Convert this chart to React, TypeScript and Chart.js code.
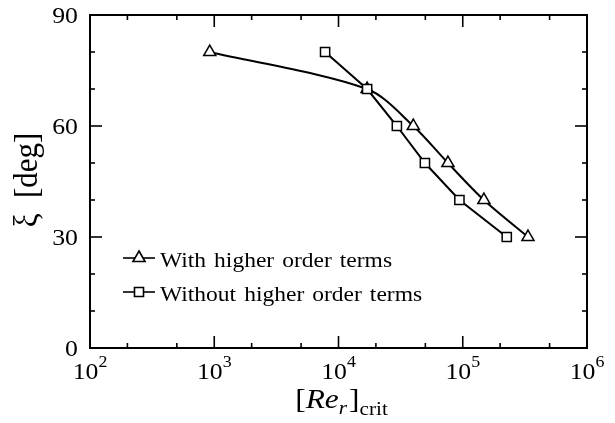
import React, { useEffect, useRef, useState } from 'react';
import { Chart, registerables } from 'chart.js';

Chart.register(...registerables);

// ---- data ----
const withX = [920, 17000, 40000, 76000, 148000, 335000];
const withY = [80, 70, 60, 50, 40, 30];
const withoutX = [7800, 17000, 29500, 49600, 94000, 226000];
const withoutY = [80, 70, 60, 50, 40, 30];
const seriesLabels = ['With higher order terms', 'Without higher order terms'];

const xMajorTicks = [1e2, 1e3, 1e4, 1e5, 1e6];
const xTickExponents = ['2', '3', '4', '5', '6'];
const xMinorTicks = [2e2, 5e2, 2e3, 5e3, 2e4, 5e4, 2e5, 5e5];
const yMajorTicks = [0, 30, 60, 90];
const yMinorTicks = [10, 20, 40, 50, 70, 80];

const SERIF = '"Liberation Serif"';
const SX = 1.12; // horizontal stretch of text in the reference scan

function txt(ctx: CanvasRenderingContext2D, s: string, x: number, y: number, font: string, align: CanvasTextAlign = 'left', sx = SX) {
  ctx.save();
  ctx.font = font;
  ctx.textAlign = align;
  ctx.textBaseline = 'alphabetic';
  ctx.translate(x, y);
  ctx.scale(sx, 1);
  ctx.fillText(s, 0, 0);
  ctx.restore();
}
function w(ctx: CanvasRenderingContext2D, s: string, font: string, sx = SX) {
  ctx.save();
  ctx.font = font;
  const m = ctx.measureText(s).width * sx;
  ctx.restore();
  return m;
}

function drawTri(ctx: CanvasRenderingContext2D, x: number, y: number, r: number) {
  ctx.beginPath();
  ctx.moveTo(x, y - r);
  ctx.lineTo(x + r * 0.866, y + r * 0.5);
  ctx.lineTo(x - r * 0.866, y + r * 0.5);
  ctx.closePath();
  ctx.fillStyle = '#fff';
  ctx.fill();
  ctx.stroke();
}
function drawSq(ctx: CanvasRenderingContext2D, x: number, y: number, h: number) {
  ctx.beginPath();
  ctx.rect(x - h, y - h, 2 * h, 2 * h);
  ctx.fillStyle = '#fff';
  ctx.fill();
  ctx.stroke();
}

const decorPlugin = {
  id: 'decor',
  afterDraw(chart: any) {
    const { ctx, chartArea: a, scales } = chart;
    const xs = scales.x;
    const ys = scales.y;
    ctx.save();
    ctx.strokeStyle = '#000';
    ctx.fillStyle = '#000';
    ctx.lineWidth = 2;
    ctx.strokeRect(a.left, a.top, a.right - a.left, a.bottom - a.top);

    ctx.lineWidth = 1.6;
    const tick = (x1: number, y1: number, x2: number, y2: number) => {
      ctx.beginPath();
      ctx.moveTo(x1, y1);
      ctx.lineTo(x2, y2);
      ctx.stroke();
    };
    const MAJ = 12, MIN = 5;
    xMajorTicks.forEach((v) => {
      const px = xs.getPixelForValue(v);
      tick(px, a.bottom, px, a.bottom - MAJ);
      tick(px, a.top, px, a.top + MAJ);
    });
    xMinorTicks.forEach((v) => {
      const px = xs.getPixelForValue(v);
      tick(px, a.bottom, px, a.bottom - MIN);
      tick(px, a.top, px, a.top + MIN);
    });
    yMajorTicks.forEach((v) => {
      const py = ys.getPixelForValue(v);
      tick(a.left, py, a.left + MAJ, py);
      tick(a.right, py, a.right - MAJ, py);
    });
    yMinorTicks.forEach((v) => {
      const py = ys.getPixelForValue(v);
      tick(a.left, py, a.left + MIN, py);
      tick(a.right, py, a.right - MIN, py);
    });

    // tick labels
    ctx.fillStyle = '#000';
    const tickFont = `23px ${SERIF}`;
    const expFont = `16px ${SERIF}`;
    yMajorTicks.forEach((v) => {
      const py = ys.getPixelForValue(v);
      txt(ctx, String(v), a.left - 12, py + 8, tickFont, 'right');
    });
    xMajorTicks.forEach((v, i) => {
      const px = xs.getPixelForValue(v);
      const w10 = w(ctx, '10', tickFont);
      const we = w(ctx, xTickExponents[i], expFont);
      const left = px - (w10 + we) / 2;
      txt(ctx, '10', left, a.bottom + 31, tickFont, 'left');
      txt(ctx, xTickExponents[i], left + w10, a.bottom + 19, expFont, 'left');
    });

    // axis titles
    const xt = 28;
    const mainFont = `${xt}px ${SERIF}`;
    const itFont = `italic ${xt}px ${SERIF}`;
    const subItFont = `italic 19px ${SERIF}`;
    const subFont = `19px ${SERIF}`;
    const parts: [string, string, number][] = [
      ['[', mainFont, 0],
      ['Re', itFont, 0],
      ['r', subItFont, 6],
      [']', mainFont, 0],
      ['crit', subFont, 7],
    ];
    let total = 0;
    parts.forEach(([s, f]) => (total += w(ctx, s, f)));
    let cx = (a.left + a.right) / 2 - total / 2 + 2;
    const base = a.bottom + 60;
    parts.forEach(([s, f, dy]) => {
      txt(ctx, s, cx, base + dy, f, 'left');
      cx += w(ctx, s, f) + (s === 'r' ? 2 : 0);
    });

    // y title (rotated)
    ctx.save();
    ctx.translate(37, 180);
    ctx.rotate(-Math.PI / 2);
    ctx.font = `31px ${SERIF}`;
    ctx.textAlign = 'center';
    ctx.textBaseline = 'alphabetic';
    ctx.scale(1, SX);
    ctx.fillText('\u03BE  [deg]', 0, 0);
    ctx.restore();

    // legend
    const legFont = `21px ${SERIF}`;
    const lx = a.left + 33;
    const rows = [a.top + 243, a.top + 277];
    ctx.lineWidth = 1.6;
    rows.forEach((ry, i) => {
      ctx.strokeStyle = '#000';
      tick(lx, ry, lx + 32, ry);
      if (i === 0) drawTri(ctx, lx + 16, ry, 7);
      else drawSq(ctx, lx + 16, ry, 4.5);
      ctx.fillStyle = '#000';
      let tx = lx + 37;
      seriesLabels[i].split(' ').forEach((word) => {
        txt(ctx, word, tx, ry + 9, legFont, 'left');
        tx += w(ctx, word, legFont) + 8;
      });
    });
    ctx.restore();
  },
};

export default function App() {
  const ref = useRef<HTMLCanvasElement>(null);
  const [ready, setReady] = useState(false);
  useEffect(() => {
    const fs: any = (document as any).fonts;
    if (fs && fs.load) {
      Promise.all([
        fs.load('23px "Liberation Serif"'),
        fs.load('italic 23px "Liberation Serif"'),
      ]).then(() => setReady(true), () => setReady(true));
    } else setReady(true);
  }, []);
  useEffect(() => {
    if (!ready || !ref.current) return;
    const chart = new Chart(ref.current, {
      type: 'line',
      data: {
        datasets: [
          {
            label: seriesLabels[0],
            data: withX.map((x, i) => ({ x, y: withY[i] })),
            borderColor: '#000',
            borderWidth: 2,
            tension: 0.3,
            pointStyle: 'triangle',
            pointRadius: 7,
            pointBackgroundColor: '#fff',
            pointBorderColor: '#000',
            pointBorderWidth: 1.5,
            order: 1,
          },
          {
            label: seriesLabels[1],
            data: withoutX.map((x, i) => ({ x, y: withoutY[i] })),
            borderColor: '#000',
            borderWidth: 2,
            tension: 0,
            pointStyle: 'rect',
            pointRadius: 6.5,
            pointBackgroundColor: '#fff',
            pointBorderColor: '#000',
            pointBorderWidth: 1.5,
            order: 0,
          },
        ],
      },
      options: {
        animation: false,
        responsive: false,
        devicePixelRatio: 1,
        layout: { padding: { left: 90, top: 15, right: 28, bottom: 75 } },
        plugins: { legend: { display: false }, tooltip: { enabled: false } },
        scales: {
          x: { type: 'logarithmic', min: 100, max: 1e6, display: false },
          y: { type: 'linear', min: 0, max: 90, display: false },
        },
      },
      plugins: [decorPlugin],
    });
    return () => chart.destroy();
  }, [ready]);
  return (
    <div style={{ position: 'absolute', left: 0, top: 0, width: 615, height: 423, background: '#fff' }}>
      <span style={{ position: 'absolute', left: -1000, fontFamily: '"Liberation Serif"' }}>
        .<i>.</i>
      </span>
      <canvas ref={ref} width={615} height={423} />
    </div>
  );
}
